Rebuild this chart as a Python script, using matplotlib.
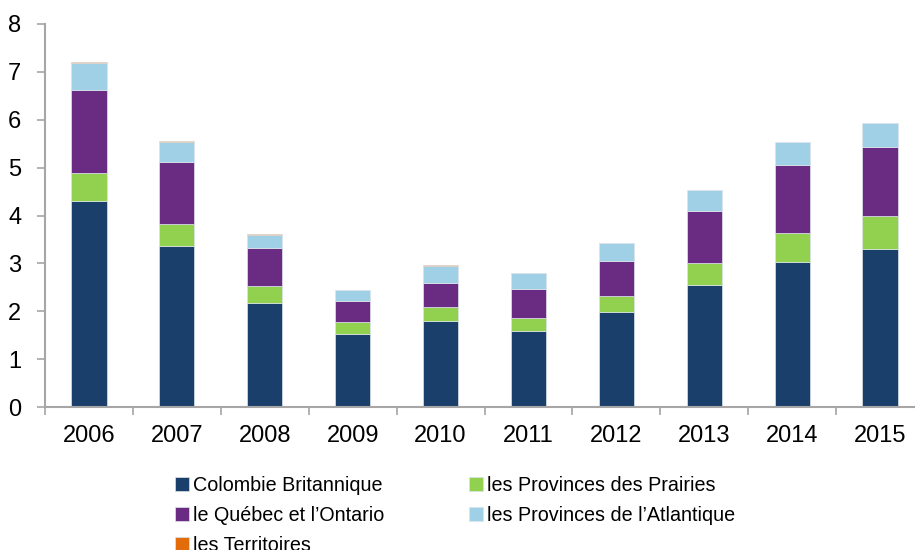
import matplotlib.pyplot as plt
import numpy as np

years = ['2006', '2007', '2008', '2009', '2010', '2011', '2012', '2013', '2014', '2015']

colombie_britannique = [4.31, 3.36, 2.18, 1.52, 1.79, 1.59, 1.99, 2.55, 3.03, 3.30]
provinces_prairies = [0.57, 0.47, 0.35, 0.26, 0.30, 0.26, 0.33, 0.46, 0.61, 0.68]
quebec_ontario = [1.75, 1.28, 0.80, 0.43, 0.51, 0.61, 0.73, 1.09, 1.41, 1.45]
provinces_atlantique = [0.56, 0.42, 0.26, 0.23, 0.34, 0.33, 0.37, 0.44, 0.49, 0.50]
territoires = [0.02, 0.02, 0.02, 0.01, 0.02, 0.01, 0.01, 0.0, 0.0, 0.0]

labels = ['Colombie Britannique', 'les Provinces des Prairies',
          'le Québec et l\u2019Ontario', 'les Provinces de l\u2019Atlantique',
          'les Territoires']
colors = ['#1b3f6b', '#92d050', '#6a2c82', '#9fd0e6', '#e36c0a']

plt.rcParams['font.family'] = ['Liberation Sans', 'DejaVu Sans']

fig = plt.figure(figsize=(9.15, 5.5), dpi=100)
ax = fig.add_axes([45 / 915, 1 - 407 / 550, 879 / 915, 383 / 550])

x = np.arange(len(years))
bottom = np.zeros(len(years))
series = [colombie_britannique, provinces_prairies, quebec_ontario,
          provinces_atlantique, territoires]
handles = []
for vals, col, lab in zip(series, colors, labels):
    b = ax.bar(x, vals, 0.4, bottom=bottom, color=col, label=lab,
               edgecolor='#dde3ea', linewidth=0.5)
    handles.append(b)
    bottom += np.array(vals)

ax.set_xlim(-0.5, len(years) - 0.5)
ax.set_ylim(0, 8)
ax.set_yticks(range(0, 9))
ax.tick_params(axis='y', labelsize=17, length=6, width=1.2, color='#a6a6a6', pad=11)
ax.set_xticks(x)
ax.set_xticklabels(years)
ax.set_xticks(np.arange(-0.5, len(years), 1), minor=True)
ax.tick_params(axis='x', which='major', length=0, labelsize=17, pad=13)
ax.tick_params(axis='x', which='minor', length=6, width=1.2, color='#a6a6a6')

for s in ['top', 'right']:
    ax.spines[s].set_visible(False)
for s in ['left', 'bottom']:
    ax.spines[s].set_color('#a6a6a6')
    ax.spines[s].set_linewidth(1.5)

# legend fills columns first, so reorder to get the row layout of the original
order = [0, 2, 4, 1, 3]
fig.legend(handles=[handles[i] for i in order], labels=[labels[i] for i in order],
           ncol=2, frameon=False,
           loc='upper left', bbox_to_anchor=(175 / 915, 1 - 476 / 550),
           fontsize=14.2, handlelength=0.7, handleheight=0.7,
           handletextpad=0.2, columnspacing=4.3, labelspacing=0.55,
           borderaxespad=0, borderpad=0)

fig.savefig('out.png', dpi=100)
